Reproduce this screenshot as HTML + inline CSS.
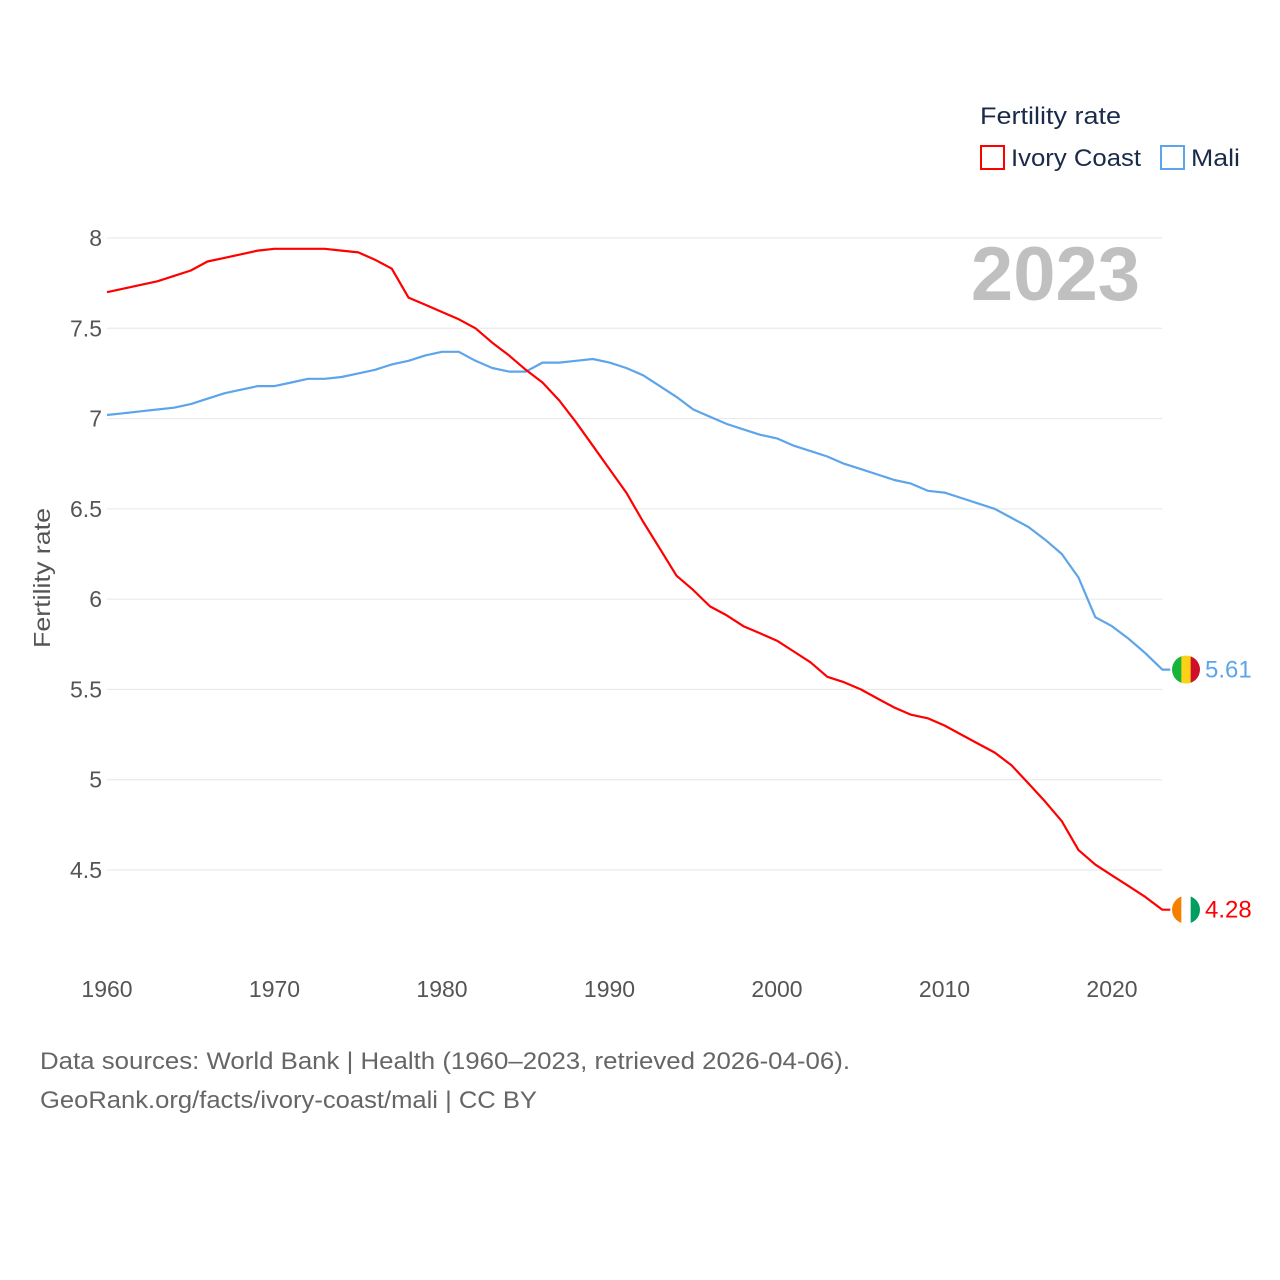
<!DOCTYPE html>
<html><head><meta charset="utf-8"><style>
body{margin:0;background:#fff;font-family:"Liberation Sans",sans-serif;}
</style></head><body>
<svg width="1280" height="1280" viewBox="0 0 1280 1280" style="display:block">
<g id="grid"></g>
<g id="yt" font-size="23" fill="#555" text-anchor="end"></g>
<g id="xt" font-size="23" fill="#555" text-anchor="middle"></g>
<text transform="translate(50,578) rotate(-90)" text-anchor="middle" font-size="23" fill="#555" textLength="140" lengthAdjust="spacingAndGlyphs">Fertility rate</text>
<text x="1140" y="300" text-anchor="end" font-size="76" font-weight="bold" fill="#c0c0c0">2023</text>
<g>
<text x="980" y="124" font-size="24" fill="#1a2b4a" textLength="141" lengthAdjust="spacingAndGlyphs">Fertility rate</text>
<rect x="981" y="146" width="23" height="23" fill="none" stroke="#f00" stroke-width="2"/>
<text x="1011" y="166" font-size="24" fill="#1a2b4a" textLength="130" lengthAdjust="spacingAndGlyphs">Ivory Coast</text>
<rect x="1161" y="146" width="23" height="23" fill="none" stroke="#5da5ea" stroke-width="2"/>
<text x="1191" y="166" font-size="24" fill="#1a2b4a" textLength="49" lengthAdjust="spacingAndGlyphs">Mali</text>
</g>
<g id="series"></g>
<text x="40" y="1069" font-size="24" fill="#666" textLength="810" lengthAdjust="spacingAndGlyphs">Data sources: World Bank | Health (1960–2023, retrieved 2026-04-06).</text>
<text x="40" y="1108" font-size="24" fill="#666" textLength="497" lengthAdjust="spacingAndGlyphs">GeoRank.org/facts/ivory-coast/mali | CC BY</text>
</svg>
<script>
const years=[];for(let y=1960;y<=2023;y++)years.push(y);
const ivoryCoast=[7.70,7.72,7.74,7.76,7.79,7.82,7.87,7.89,7.91,7.93,7.94,7.94,7.94,7.94,7.93,7.92,7.88,7.83,7.67,7.63,7.59,7.55,7.50,7.42,7.35,7.27,7.20,7.10,6.98,6.85,6.72,6.59,6.43,6.28,6.13,6.05,5.96,5.91,5.85,5.81,5.77,5.71,5.65,5.57,5.54,5.50,5.45,5.40,5.36,5.34,5.30,5.25,5.20,5.15,5.08,4.98,4.88,4.77,4.61,4.53,4.47,4.41,4.35,4.28];
const mali=[7.02,7.03,7.04,7.05,7.06,7.08,7.11,7.14,7.16,7.18,7.18,7.20,7.22,7.22,7.23,7.25,7.27,7.30,7.32,7.35,7.37,7.37,7.32,7.28,7.26,7.26,7.31,7.31,7.32,7.33,7.31,7.28,7.24,7.18,7.12,7.05,7.01,6.97,6.94,6.91,6.89,6.85,6.82,6.79,6.75,6.72,6.69,6.66,6.64,6.60,6.59,6.56,6.53,6.50,6.45,6.40,6.33,6.25,6.12,5.90,5.85,5.78,5.70,5.61];
const yTicks=[4.5,5,5.5,6,6.5,7,7.5,8];
const yTickLabels=["4.5","5","5.5","6","6.5","7","7.5","8"];
const xTicks=[1960,1970,1980,1990,2000,2010,2020];
const X=v=>107+(v-1960)*16.75;
const Y=v=>238+(8-v)*180.57;
const NS="http://www.w3.org/2000/svg";
function mk(t,a,p){const e=document.createElementNS(NS,t);for(const k in a)e.setAttribute(k,a[k]);p.appendChild(e);return e;}
const grid=document.getElementById('grid'),yt=document.getElementById('yt'),xt=document.getElementById('xt'),ser=document.getElementById('series');
yTicks.forEach((v,i)=>{
 const l=mk('line',{x1:107,x2:1162,y1:Y(v),y2:Y(v),stroke:'#e6e6e6','stroke-width':1},grid);
 
 
 const t=mk('text',{x:102,y:Y(v)+8},yt);t.textContent=yTickLabels[i];
 
 
});
xTicks.forEach(v=>{
 const t=mk('text',{x:X(v),y:997},xt);t.textContent=v;
 
 
});
function line(vals,color,name){
 let d=vals.map((v,i)=>(i?'L':'M')+X(years[i]).toFixed(1)+','+Y(v).toFixed(1)).join('');
 d+='h8';
 const p=mk('path',{d:d,fill:'none',stroke:color,'stroke-width':2.2,'stroke-linejoin':'round'},ser);
 
 
}
line(mali,'#5da5ea','mali');
line(ivoryCoast,'#f00','ivory-coast');
function flag(v,cols,name,color){
 const cy=Y(v),cx=1186,r=14,g=mk('g',{},ser);
 
 
 const id='c'+name;const cp=mk('clipPath',{id:id},g);mk('circle',{cx:cx,cy:cy,r:r},cp);
 cols.forEach((c,i)=>mk('rect',{x:cx-r+i*2*r/3,y:cy-r,width:2*r/3+0.5,height:2*r,fill:c,'clip-path':'url(#'+id+')'},g));
 const t=mk('text',{x:1205,y:cy+8,'font-size':24,fill:color},ser);
 t.textContent=v.toFixed(2);
 
 
}
flag(mali[mali.length-1],['#14b53a','#fcd116','#ce1126'],'mali','#5da5ea');
flag(ivoryCoast[ivoryCoast.length-1],['#f77f00','#ffffff','#009e60'],'ivory-coast','#f00');
</script>
</body></html>
